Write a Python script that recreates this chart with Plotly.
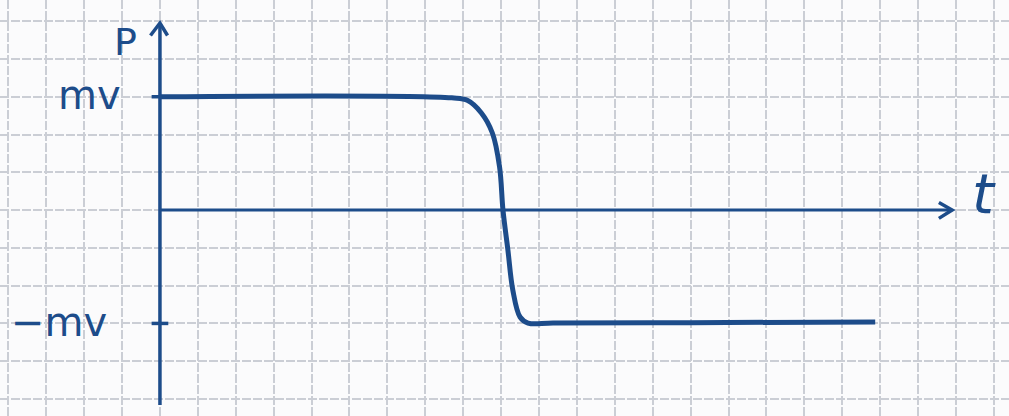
import plotly.graph_objects as go

# Curve: momentum P vs time t (grid-cell units; mv = 3 cells)
t_vals = [0.0, 7.70, 8.12, 8.48, 8.77, 8.96, 9.05, 9.18, 9.31, 9.50, 9.71, 10.37, 14.0, 18.87]
p_vals = [3.0, 2.97, 2.90, 2.57, 2.04, 1.14, 0.0, -1.06, -2.12, -2.83, -2.99, -2.99, -2.98, -2.96]

# Axis extents
y_axis_t = [0.0, 0.0]
y_axis_p = [-5.16, 4.95]
x_axis_t = [0.0, 20.9]
x_axis_p = [0.0, 0.0]

tick_labels = ["mv", "−mv"]
tick_values = [3.0, -3.0]

ink = "#1d4c8a"
grid = "#cbced5"

fig = go.Figure()

fig.add_trace(go.Scatter(x=x_axis_t, y=x_axis_p, mode="lines",
                         line=dict(color=ink, width=3), hoverinfo="skip", showlegend=False))
fig.add_trace(go.Scatter(x=y_axis_t, y=y_axis_p, mode="lines",
                         line=dict(color=ink, width=3.5), hoverinfo="skip", showlegend=False))
fig.add_trace(go.Scatter(x=[-0.25, 0.0, 0.2], y=[4.62, 4.95, 4.62], mode="lines",
                         line=dict(color=ink, width=3.5), hoverinfo="skip", showlegend=False))
fig.add_trace(go.Scatter(x=[20.55, 20.9, 20.55], y=[0.2, 0.0, -0.22], mode="lines",
                         line=dict(color=ink, width=3.5), hoverinfo="skip", showlegend=False))
for v in tick_values:
    fig.add_trace(go.Scatter(x=[-0.22, 0.22], y=[v, v], mode="lines",
                             line=dict(color=ink, width=3.5), hoverinfo="skip", showlegend=False))
fig.add_trace(go.Scatter(x=t_vals, y=p_vals, mode="lines", line_shape="spline",
                         line=dict(color=ink, width=5), hoverinfo="skip", showlegend=False))

fig.add_annotation(x=-0.98, y=3.05, text=tick_labels[0], showarrow=False, xanchor="right", yanchor="middle",
                   font=dict(family="DejaVu Sans", size=40, color=ink))
fig.add_annotation(x=-1.35, y=-2.95, text=tick_labels[1], showarrow=False, xanchor="right", yanchor="middle",
                   font=dict(family="DejaVu Sans", size=40, color=ink))
fig.add_annotation(x=-0.9, y=4.45, text="P", showarrow=False, xanchor="center", yanchor="middle",
                   font=dict(family="DejaVu Sans", size=38, color=ink))
fig.add_annotation(x=21.75, y=0.45, text="<i>t</i>", showarrow=False, xanchor="center", yanchor="middle",
                   font=dict(family="DejaVu Sans", size=56, color=ink))

fig.update_layout(
    width=1009, height=416,
    margin=dict(l=0, r=0, t=0, b=0),
    paper_bgcolor="#fbfbfc", plot_bgcolor="#fbfbfc",
    xaxis=dict(range=[-4.22, 22.4], tick0=0, dtick=1, showgrid=True, gridcolor=grid,
               gridwidth=2, griddash="9px,2px", zeroline=False, showticklabels=False, ticks=""),
    yaxis=dict(range=[-5.45, 5.56], tick0=0, dtick=1, showgrid=True, gridcolor=grid,
               gridwidth=2, griddash="9px,2px", zeroline=False, showticklabels=False, ticks=""),
)

fig.write_html("out.html", config={"displayModeBar": False})
with open("out.html", encoding="utf-8") as f:
    html = f.read()
html = html.replace("<head>", "<head><style>html,body{margin:0;padding:0;overflow:hidden}</style>", 1)
with open("out.html", "w", encoding="utf-8") as f:
    f.write(html)
